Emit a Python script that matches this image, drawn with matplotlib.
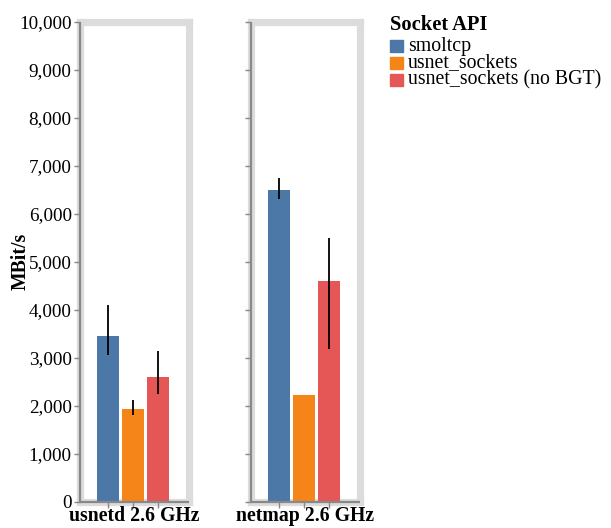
import matplotlib.pyplot as plt
from matplotlib.patches import Rectangle

plt.rcParams['font.family'] = ['Liberation Serif', 'DejaVu Serif']

# data
groups = ['usnetd 2.6 GHz', 'netmap 2.6 GHz']
series = ['smoltcp', 'usnet_sockets', 'usnet_sockets (no BGT)']
colors = ['#4c78a8', '#f58518', '#e45756']

means = [[3450, 1925, 2590],
         [6500, 2215, 4590]]
err_low = [[3050, 1800, 2250],
           [6300, 2215, 3175]]
err_high = [[4100, 2110, 3130],
            [6740, 2215, 5490]]

yticks = list(range(0, 10001, 1000))

W, H = 611, 528
fig = plt.figure(figsize=(W / 100, H / 100), dpi=100)

frame_gray = '#dcdcdc'
axis_gray = '#888888'
lefts = [80, 251]
pw = 109
y0, y1 = 501.5, 21.5

for g, left in enumerate(lefts):
    ax = fig.add_axes([left / W, (H - y0) / H, pw / W, (y0 - y1) / H])
    xs = range(len(series))
    ax.bar(xs, means[g], width=0.9, color=colors, zorder=2)
    for i in xs:
        if err_high[g][i] > err_low[g][i]:
            ax.vlines(i, err_low[g][i], err_high[g][i], color='black', lw=1.3, zorder=3)
    ax.set_xlim(-1.12, 3.24)
    ax.set_ylim(0, 10000)

    for s in ax.spines.values():
        s.set_color(frame_gray)
        s.set_linewidth(5.2)
        s.set_zorder(0.5)
    # darker axis domain lines
    ax.plot([0, 0], [0, 1], transform=ax.transAxes, color=axis_gray, lw=1.6,
            clip_on=False, zorder=4, solid_capstyle='butt')
    ax.plot([0, 1], [0, 0], transform=ax.transAxes, color=axis_gray, lw=1.6,
            clip_on=False, zorder=4, solid_capstyle='butt')

    ax.set_xticks(list(xs))
    ax.set_xticklabels([])
    ax.set_yticks(yticks)
    ax.tick_params(axis='both', colors=axis_gray, length=4, width=1, labelcolor='black',
                   labelsize=13.8, pad=2)
    if g == 0:
        ax.set_yticklabels([f'{v:,}' for v in yticks])
    else:
        ax.set_yticklabels([])
    ax.set_xlabel(groups[g], fontsize=14.2, fontweight='bold', labelpad=-2.5)

fig.text(21 / W, 1 - 261 / H, 'MBit/s', rotation=90, ha='center', va='center',
         fontsize=14.2, fontweight='bold')

# legend
fig.text(390 / W, 1 - 25 / H, 'Socket API', ha='left', va='center',
         fontsize=14.8, fontweight='bold')
for i, (name, c) in enumerate(zip(series, colors)):
    yc = 46 + 17 * i
    fig.patches.append(Rectangle((390 / W, 1 - (yc + 6) / H), 13 / W, 12 / H,
                                 transform=fig.transFigure, color=c))
    fig.text(408 / W, 1 - yc / H, name, ha='left', va='center', fontsize=14.3)

fig.savefig('out.png', dpi=100)
